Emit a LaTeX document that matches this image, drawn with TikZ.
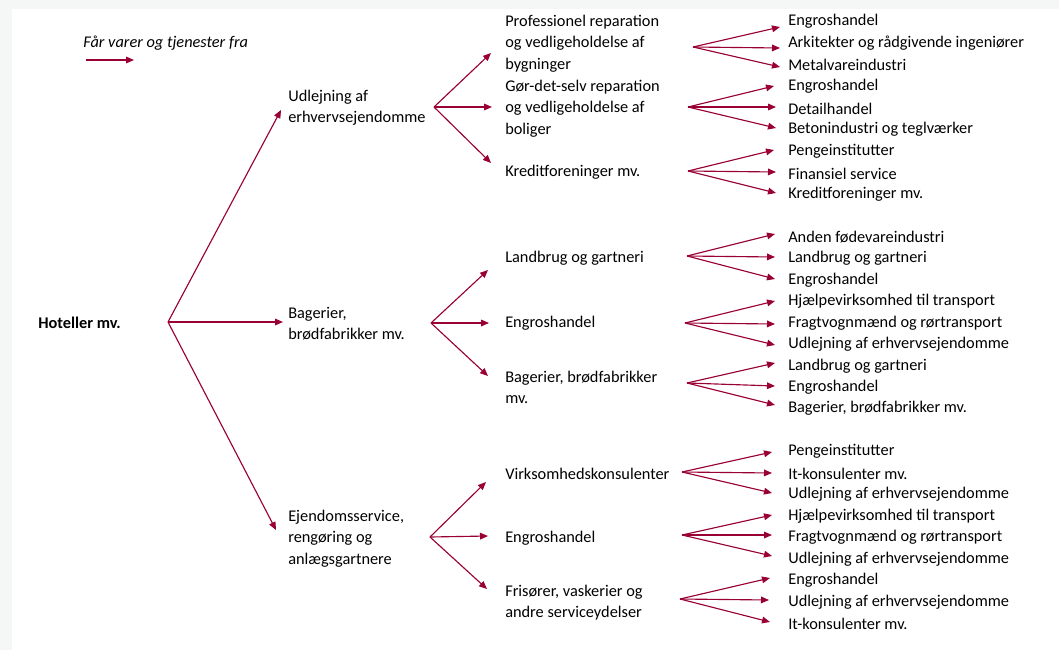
\documentclass[tikz,border=0pt]{standalone}
\usepackage{fontspec}
\setmainfont{Carlito}
\usetikzlibrary{arrows.meta}
\definecolor{crim}{HTML}{990033}
\definecolor{frame}{HTML}{F5F6F6}
\begin{document}
\begin{tikzpicture}[x=0.75pt,y=-0.75pt,
  lbl/.style={anchor=west,inner sep=0pt,align=left,yshift=-1.2pt,font={\fontsize{12.25}{16.1}\selectfont}},
  conn/.style={draw=crim,line width=0.85pt,-{Triangle[length=6pt,width=5pt]}}]
\useasboundingbox (0,0) rectangle (1059,650);
\fill[frame] (0,0) rectangle (1059,650);
\fill[white] (12,9) rectangle (1059,650);
% legend
\node[lbl,font={\fontsize{12.25}{16.1}\selectfont\itshape}] (leg) at (83,42) {Får varer og tjenester fra};
\coordinate (lg1) at (86,60); \coordinate (lg2) at (134,60);
\draw[conn] (lg1) -- (lg2);
% root
\node[lbl,font={\fontsize{12.25}{16.1}\selectfont\bfseries}] (root) at (38,321) {Hoteller mv.};
\coordinate (rf) at (168,322);
% level 1
\node[lbl] (u) at (288,106) {Udlejning af\\erhvervsejendomme};
\node[lbl] (b) at (288,322) {Bagerier,\\brødfabrikker mv.};
\node[lbl] (e) at (288,537) {Ejendomsservice,\\rengøring og\\anlægsgartnere};
\coordinate (ut) at (281,110); \coordinate (bt) at (283,322); \coordinate (et) at (276,530);
\draw[conn] (rf) -- (ut);
\draw[conn] (rf) -- (bt);
\draw[conn] (rf) -- (et);
% level 2
\coordinate (uf) at (434,107); \coordinate (bf) at (431,323); \coordinate (ef) at (430,537);
\node[lbl] (a1) at (505,42) {Professionel reparation\\og vedligeholdelse af\\bygninger};
\node[lbl] (a2) at (505,107) {Gør-det-selv reparation\\og vedligeholdelse af\\boliger};
\node[lbl] (a3) at (505,171) {Kreditforeninger mv.};
\node[lbl] (b1) at (505,257) {Landbrug og gartneri};
\node[lbl] (b2) at (505,322) {Engroshandel};
\node[lbl] (b3) at (505,386) {Bagerier, brødfabrikker\\mv.};
\node[lbl] (c1) at (505,472) {Virksomhedskonsulenter};
\node[lbl] (c2) at (505,537) {Engroshandel};
\node[lbl] (c3) at (505,601) {Frisører, vaskerier og\\andre serviceydelser};
\coordinate (a1t) at (491,53); \coordinate (a2t) at (492,107); \coordinate (a3t) at (491,163);
\coordinate (b1t) at (488,270); \coordinate (b2t) at (489,323); \coordinate (b3t) at (488,376);
\coordinate (c1t) at (486,482); \coordinate (c2t) at (488,536); \coordinate (c3t) at (487,589);
\foreach \f/\t in {uf/a1t,uf/a2t,uf/a3t,bf/b1t,bf/b2t,bf/b3t,ef/c1t,ef/c2t,ef/c3t}
  \draw[conn] (\f) -- (\t);
% level 3 forks
\coordinate (a1f) at (693,47); \coordinate (a2f) at (688,107); \coordinate (a3f) at (688,171);
\coordinate (b1f) at (687,256); \coordinate (b2f) at (685,323); \coordinate (b3f) at (687,383);
\coordinate (c1f) at (682,472); \coordinate (c2f) at (682,535); \coordinate (c3f) at (680,599);
% level 3 labels
\node[lbl] (a11) at (788,20) {Engroshandel};
\node[lbl] (a12) at (788,42) {Arkitekter og rådgivende ingeniører};
\node[lbl] (a13) at (788,63) {Metalvareindustri};
\node[lbl] (a21) at (788,85) {Engroshandel};
\node[lbl] (a22) at (788,107) {Detailhandel};
\node[lbl] (a23) at (788,128) {Betonindustri og teglværker};
\node[lbl] (a31) at (788,150) {Pengeinstitutter};
\node[lbl] (a32) at (788,172) {Finansiel service};
\node[lbl] (a33) at (788,193) {Kreditforeninger mv.};
\node[lbl] (b11) at (788,236) {Anden fødevareindustri};
\node[lbl] (b12) at (788,257) {Landbrug og gartneri};
\node[lbl] (b13) at (788,279) {Engroshandel};
\node[lbl] (b21) at (788,300) {Hjælpevirksomhed til transport};
\node[lbl] (b22) at (788,322) {Fragtvognmænd og rørtransport};
\node[lbl] (b23) at (788,343) {Udlejning af erhvervsejendomme};
\node[lbl] (b31) at (788,365) {Landbrug og gartneri};
\node[lbl] (b32) at (788,386) {Engroshandel};
\node[lbl] (b33) at (788,407) {Bagerier, brødfabrikker mv.};
\node[lbl] (c11) at (788,450) {Pengeinstitutter};
\node[lbl] (c12) at (788,472) {It-konsulenter mv.};
\node[lbl] (c13) at (788,493) {Udlejning af erhvervsejendomme};
\node[lbl] (c21) at (788,515) {Hjælpevirksomhed til transport};
\node[lbl] (c22) at (788,536) {Fragtvognmænd og rørtransport};
\node[lbl] (c23) at (788,558) {Udlejning af erhvervsejendomme};
\node[lbl] (c31) at (788,579) {Engroshandel};
\node[lbl] (c32) at (788,601) {Udlejning af erhvervsejendomme};
\node[lbl] (c33) at (788,622) {It-konsulenter mv.};
% level 3 tips
\coordinate (a11t) at (780,27); \coordinate (a12t) at (780,48); \coordinate (a13t) at (780,67);
\coordinate (a21t) at (774,86); \coordinate (a22t) at (776,107); \coordinate (a23t) at (776,128);
\coordinate (a31t) at (774,150); \coordinate (a32t) at (776,172); \coordinate (a33t) at (776,193);
\coordinate (b11t) at (775,234); \coordinate (b12t) at (775,257); \coordinate (b13t) at (775,279);
\coordinate (b21t) at (775,301); \coordinate (b22t) at (775,324); \coordinate (b23t) at (775,345);
\coordinate (b31t) at (775,363); \coordinate (b32t) at (775,386); \coordinate (b33t) at (775,405);
\coordinate (c11t) at (772,452); \coordinate (c12t) at (772,473); \coordinate (c13t) at (772,493);
\coordinate (c21t) at (772,515); \coordinate (c22t) at (772,535); \coordinate (c23t) at (772,556);
\coordinate (c31t) at (770,578); \coordinate (c32t) at (769,600); \coordinate (c33t) at (770,622);
\foreach \g in {a1,a2,a3,b1,b2,b3,c1,c2,c3}
  \foreach \i in {1,2,3}
    \draw[conn] (\g f) -- (\g\i t);
\end{tikzpicture}
\end{document}
